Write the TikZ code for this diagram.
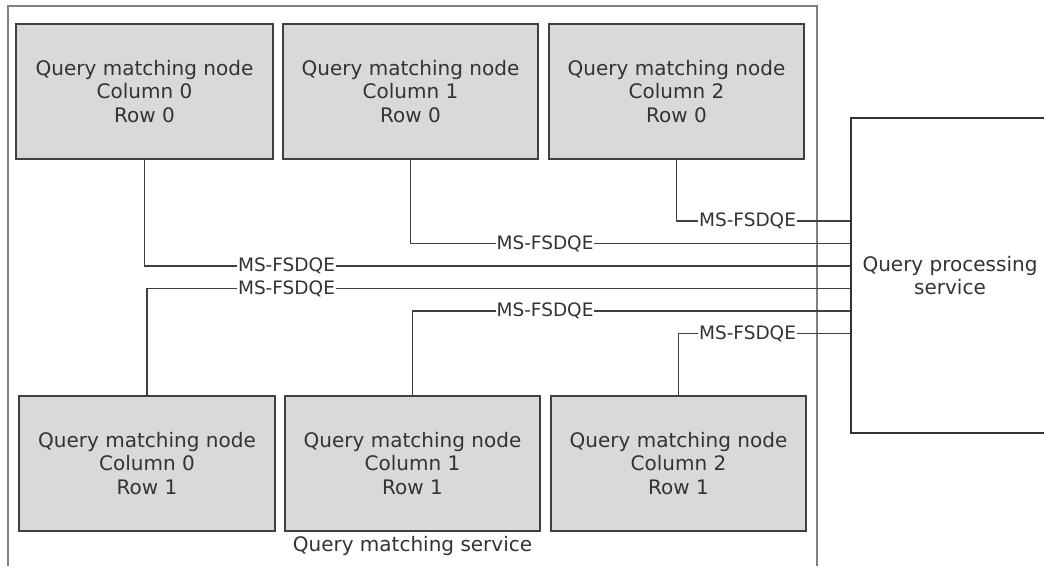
\documentclass[tikz,border=0pt]{standalone}
\usepackage{fontspec}
\setmainfont{DejaVu Sans}
\begin{document}
\begin{tikzpicture}[x=1pt,y=-1pt,
  every node/.style={font=\fontsize{20}{23.5}\selectfont, text=black!80, align=center},
  service/.style={draw=black!50, line width=2pt, minimum width=809pt, minimum height=594pt, inner sep=0pt},
  matchnode/.style={draw=black!75, fill=black!15, line width=1.3pt, minimum width=255pt, minimum height=135pt, inner sep=0pt},
  procbox/.style={draw=black!80, line width=1.3pt, minimum width=198pt, minimum height=315pt, inner sep=0pt},
  link/.style={draw=black!75, line width=1.3pt},
  proto/.style={fill=white, inner sep=1pt, font=\fontsize{18.5}{22}\selectfont}
]
\useasboundingbox (0,0) rectangle (1044,565);
\clip (0,0) rectangle (1044,565);

% containers
\node[service] (qms) at (412.5,303) {};
\node[procbox] (qps) at (950,275.5) {Query processing\\service};

% query matching nodes, row 0
\node[matchnode, minimum width=257pt] (t0) at (144.5,91.5) {Query matching node\\Column 0\\Row 0};
\node[matchnode] (t1) at (410.5,91.5) {Query matching node\\Column 1\\Row 0};
\node[matchnode] (t2) at (676.5,91.5) {Query matching node\\Column 2\\Row 0};

% query matching nodes, row 1
\node[matchnode, minimum width=256pt] (b0) at (147,463.5) {Query matching node\\Column 0\\Row 1};
\node[matchnode] (b1) at (412.5,463.5) {Query matching node\\Column 1\\Row 1};
\node[matchnode] (b2) at (678.5,463.5) {Query matching node\\Column 2\\Row 1};

\node (svclabel) at (412.5,546) {Query matching service};

% protocol links to the query processing service
\draw[link] (t2.south) |- (qps.west |- 0,221);
\draw[link] (t1.south) |- (qps.west |- 0,243.5);
\draw[link] (t0.south) |- (qps.west |- 0,266);
\draw[link] (b0.north) |- (qps.west |- 0,288.5);
\draw[link] (b1.north) |- (qps.west |- 0,311);
\draw[link] (b2.north) |- (qps.west |- 0,333.5);

\node[proto] (p2) at (747.5,221) {MS-FSDQE};
\node[proto] (p1) at (545,243.5) {MS-FSDQE};
\node[proto] (p0) at (286.5,266) {MS-FSDQE};
\node[proto] (q0) at (286.5,288.5) {MS-FSDQE};
\node[proto] (q1) at (545,311) {MS-FSDQE};
\node[proto] (q2) at (747.5,333.5) {MS-FSDQE};
\end{tikzpicture}
\end{document}
